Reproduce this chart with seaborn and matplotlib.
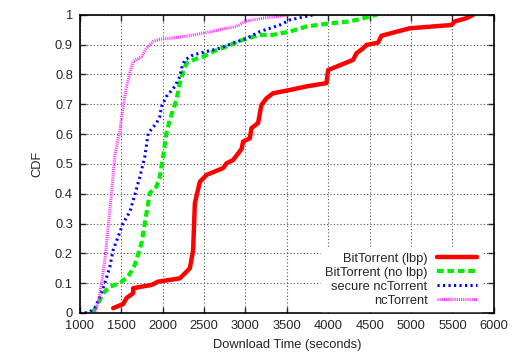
import matplotlib
matplotlib.use("Agg")
import matplotlib.pyplot as plt
import seaborn as sns
import pandas as pd

lbp_x = [1402, 1523, 1564, 1644, 1644, 1866, 1946, 2208, 2329, 2368, 2389, 2449, 2530, 2731, 2771,
         2851, 2953, 2972, 3053, 3073, 3153, 3174, 3194, 3254, 3334, 3536, 3738, 3979, 3999, 4301,
         4341, 4422, 4462, 4603, 4643, 4986, 5489, 5529, 5670, 5750]
lbp_y = [0.016, 0.03, 0.05, 0.066, 0.083, 0.094, 0.105, 0.116, 0.15, 0.21, 0.368, 0.44, 0.463, 0.486, 0.502,
         0.513, 0.55, 0.575, 0.586, 0.62, 0.637, 0.67, 0.698, 0.72, 0.737, 0.748, 0.76, 0.771, 0.815, 0.849,
         0.871, 0.888, 0.899, 0.907, 0.93, 0.955, 0.966, 0.978, 0.989, 1.0]

nolbp_x = [1161, 1221, 1282, 1362, 1483, 1584, 1664, 1745, 1805, 1845, 1926, 1966, 2006, 2046, 2087,
           2167, 2208, 2248, 2288, 2369, 2490, 2610, 2771, 2932, 3174, 3334, 3536, 3738, 3979, 4261,
           4341, 4583]
nolbp_y = [0.004, 0.033, 0.066, 0.088, 0.1, 0.122, 0.161, 0.234, 0.335, 0.402, 0.424, 0.457, 0.525, 0.603, 0.648,
           0.715, 0.771, 0.81, 0.838, 0.849, 0.86, 0.877, 0.894, 0.913, 0.933, 0.933, 0.944, 0.961, 0.97, 0.978,
           0.983, 1.0]

secure_x = [1060, 1121, 1181, 1242, 1302, 1362, 1402, 1463, 1523, 1604, 1664, 1725, 1785, 1825, 1926,
            1966, 1986, 2046, 2147, 2208, 2228, 2268, 2369, 2530, 2691, 2851, 3013, 3174, 3415, 3536,
            3818]
secure_y = [0.0, 0.004, 0.016, 0.055, 0.1, 0.155, 0.211, 0.256, 0.301, 0.34, 0.396, 0.457, 0.525, 0.603, 0.637,
            0.659, 0.692, 0.726, 0.76, 0.793, 0.821, 0.849, 0.866, 0.877, 0.888, 0.905, 0.921, 0.944, 0.966, 0.983,
            1.0]

nc_x = [1181, 1221, 1262, 1302, 1342, 1382, 1423, 1483, 1523, 1564, 1604, 1644, 1745, 1805, 1885,
        1966, 2288, 2489, 2691, 2892, 3000, 3214, 3536]
nc_y = [0.004, 0.033, 0.1, 0.178, 0.29, 0.402, 0.53, 0.614, 0.692, 0.76, 0.805, 0.844, 0.86, 0.888, 0.911,
        0.918, 0.928, 0.939, 0.95, 0.961, 0.978, 0.989, 1.0]

labels = ["BitTorrent (lbp)", "BitTorrent (no lbp)", "secure ncTorrent", "ncTorrent"]
xticks = [1000, 1500, 2000, 2500, 3000, 3500, 4000, 4500, 5000, 5500, 6000]
yticks = [0, 0.1, 0.2, 0.3, 0.4, 0.5, 0.6, 0.7, 0.8, 0.9, 1]

sns.set_style("ticks")
plt.rcParams['font.family'] = ['Liberation Sans', 'DejaVu Sans']

fig = plt.figure(figsize=(5.22, 3.54), dpi=100)
ax = fig.add_axes([0.153, 0.116, 0.793, 0.842])

series = [
    (lbp_x, lbp_y, "#ff0000", "-", 3.2),
    (nolbp_x, nolbp_y, "#00ee00", (0, (1.6, 0.9)), 3.0),
    (secure_x, secure_y, "#0000ff", (0, (0.7, 1.1)), 2.2),
    (nc_x, nc_y, "#ff33ff", (0, (0.35, 0.35)), 2.2),
]
for (xs, ys, c, ls, lw), lab in zip(series, labels):
    df = pd.DataFrame({"x": xs, "y": ys})
    sns.lineplot(data=df, x="x", y="y", ax=ax, color=c, linestyle=ls, linewidth=lw,
                 label=lab, sort=False, estimator=None)

fs = 9.3
ax.set_xlim(1000, 6000)
ax.set_ylim(0, 1)
ax.set_xticks(xticks)
ax.set_xticklabels([str(t) for t in xticks])
ax.set_yticks(yticks)
ax.set_yticklabels(["0", "0.1", "0.2", "0.3", "0.4", "0.5", "0.6", "0.7", "0.8", "0.9", "1"])
ax.grid(True, color="#555555", linestyle=(0, (1, 2)), linewidth=0.8)
ax.set_axisbelow(True)
ax.tick_params(direction="in", length=4, width=1, labelsize=fs, top=True, right=True, pad=5)
for s in ax.spines.values():
    s.set_linewidth(1.2)
    s.set_color("black")
ax.set_xlabel("Download Time (seconds)", fontsize=fs, labelpad=5)
ax.set_ylabel("CDF", fontsize=fs, labelpad=8)

leg = ax.legend(loc="lower right", bbox_to_anchor=(0.968, 0.008), markerfirst=False, frameon=True,
                fontsize=fs, handlelength=3.1, labelspacing=0.15, borderaxespad=0.0, handletextpad=0.7,
                fancybox=False, borderpad=0.3)
leg.get_frame().set_edgecolor("white")
leg.get_frame().set_facecolor("white")
leg.get_frame().set_alpha(1.0)
for t in leg.get_texts():
    t.set_ha("right")
leg._legend_box.align = "right"

fig.savefig("out.png", dpi=100)
